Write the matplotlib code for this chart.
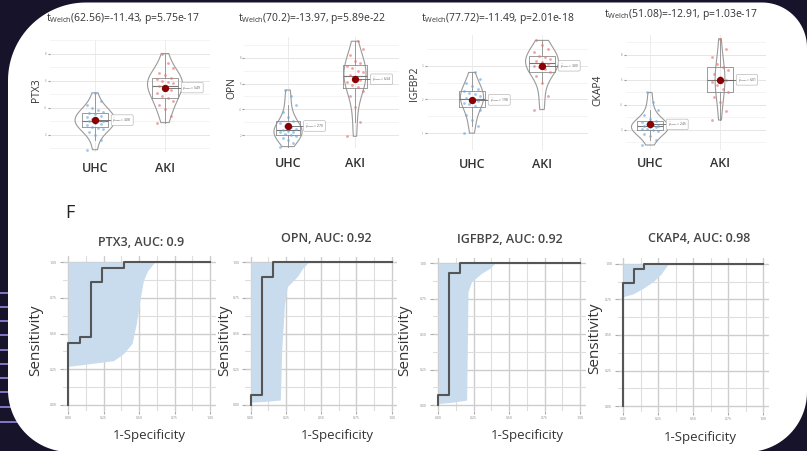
import matplotlib.pyplot as plt
import numpy as np
from matplotlib.patches import Polygon, Rectangle

W, H = 807, 451

plt.rcParams['font.family'] = ['Open Sans', 'DejaVu Sans']
plt.rcParams['mathtext.fontset'] = 'custom'
plt.rcParams['mathtext.rm'] = 'Open Sans'
plt.rcParams['mathtext.it'] = 'Open Sans:italic'

markers = ['PTX3', 'OPN', 'IGFBP2', 'CKAP4']
groups = ['UHC', 'AKI']

# Welch t-test between groups
welch_df = [62.56, 70.2, 77.72, 51.08]
welch_t = [-11.43, -13.97, -11.49, -12.91]
welch_p = ['5.75e-17', '5.89e-22', '2.01e-18', '1.03e-17']

# marker levels per group
uhc_ptx3 = [0.9, 1.6, 2.0, 2.2, 2.4, 2.5, 2.6, 2.7, 2.8, 2.9, 3.0, 3.0, 3.1, 3.2,
            3.3, 3.4, 3.5, 3.6, 3.7, 3.8, 4.0, 4.2, 4.5, 5.1]
aki_ptx3 = [2.9, 3.4, 3.9, 4.2, 4.5, 4.7, 4.9, 5.1, 5.3, 5.5, 5.6, 5.8, 5.9, 6.0,
            6.1, 6.2, 6.4, 6.6, 6.9, 7.3, 8.0]
uhc_opn = [1.1, 1.4, 1.6, 1.8, 1.9, 2.0, 2.1, 2.2, 2.2, 2.3, 2.4, 2.5, 2.6, 2.7,
           2.9, 3.1, 3.4, 3.8, 4.3, 5.0, 5.5]
aki_opn = [1.9, 3.0, 4.2, 5.0, 5.4, 5.7, 5.9, 6.1, 6.3, 6.5, 6.7, 6.9, 7.0, 7.2,
           7.4, 7.6, 7.8, 8.2, 8.7, 9.3]
uhc_igfbp2 = [1.0, 1.2, 1.4, 1.55, 1.7, 1.8, 1.85, 1.9, 1.95, 2.0, 2.05, 2.1,
              2.15, 2.2, 2.25, 2.3, 2.4, 2.5, 2.6, 2.8]
aki_igfbp2 = [1.7, 2.1, 2.5, 2.7, 2.8, 2.9, 2.95, 3.0, 3.05, 3.1, 3.15, 3.2,
              3.25, 3.3, 3.4, 3.5, 3.6, 3.75]
uhc_ckap4 = [0.8, 1.2, 1.5, 1.7, 1.9, 2.0, 2.1, 2.1, 2.2, 2.2, 2.3, 2.3, 2.4,
             2.5, 2.6, 2.7, 2.9, 3.2, 3.6, 4.2, 5.0]
aki_ckap4 = [2.8, 3.5, 4.2, 4.6, 5.0, 5.3, 5.6, 5.8, 6.0, 6.2, 6.5, 6.8, 7.0,
             7.3, 7.8, 8.5, 9.3]

uhc_vals = [uhc_ptx3, uhc_opn, uhc_igfbp2, uhc_ckap4]
aki_vals = [aki_ptx3, aki_opn, aki_igfbp2, aki_ckap4]
y_ticks = [[2, 4, 6, 8], [2, 4, 6, 8], [1, 2, 3], [2, 4, 6, 8]]

# ROC curves (1-specificity, sensitivity) and lower CI band
auc = ['0.9', '0.92', '0.92', '0.98']
fpr_ptx3 = [0, 0, 0.08, 0.08, 0.16, 0.16, 0.235, 0.235, 0.39, 0.39, 1.0]
tpr_ptx3 = [0, 0.435, 0.435, 0.477, 0.477, 0.86, 0.86, 0.96, 0.96, 1.0, 1.0]
fpr_opn = [0, 0, 0.078, 0.078, 0.156, 0.156, 1.0]
tpr_opn = [0, 0.07, 0.07, 0.895, 0.895, 1.0, 1.0]
fpr_igfbp2 = [0, 0, 0.078, 0.078, 0.153, 0.153, 1.0]
tpr_igfbp2 = [0, 0.07, 0.07, 0.934, 0.934, 1.0, 1.0]
fpr_ckap4 = [0, 0, 0.076, 0.076, 0.15, 0.15, 1.0]
tpr_ckap4 = [0, 0.869, 0.869, 0.965, 0.965, 1.0, 1.0]

ci_x_ptx3 = [0, 0.08, 0.16, 0.24, 0.32, 0.39, 0.45, 0.48, 0.51, 0.53, 0.56, 0.61]
ci_lo_ptx3 = [0.27, 0.28, 0.29, 0.30, 0.31, 0.36, 0.43, 0.57, 0.76, 0.87, 0.94, 1.0]
ci_x_opn = [0, 0.1, 0.21, 0.215, 0.22, 0.24, 0.26, 0.33, 0.37, 0.41]
ci_lo_opn = [0.02, 0.025, 0.035, 0.2, 0.39, 0.71, 0.83, 0.9, 0.96, 1.0]
ci_x_igfbp2 = [0, 0.1, 0.2, 0.205, 0.21, 0.235, 0.306, 0.365, 0.4]
ci_lo_igfbp2 = [0.01, 0.02, 0.035, 0.4, 0.8, 0.87, 0.93, 0.965, 1.0]
ci_x_ckap4 = [0, 0.071, 0.143, 0.214, 0.27, 0.32]
ci_lo_ckap4 = [0.77, 0.79, 0.83, 0.876, 0.93, 1.0]

roc_fpr = [fpr_ptx3, fpr_opn, fpr_igfbp2, fpr_ckap4]
roc_tpr = [tpr_ptx3, tpr_opn, tpr_igfbp2, tpr_ckap4]
ci_x = [ci_x_ptx3, ci_x_opn, ci_x_igfbp2, ci_x_ckap4]
ci_lo = [ci_lo_ptx3, ci_lo_opn, ci_lo_igfbp2, ci_lo_ckap4]

fig = plt.figure(figsize=(W / 100, H / 100), dpi=100)


def px_axes(x0, y0, x1, y1):
    ax = fig.add_axes([x0 / W, 1 - y1 / H, (x1 - x0) / W, (y1 - y0) / H])
    ax.set_facecolor('none')
    for s in ax.spines.values():
        s.set_visible(False)
    return ax


def px_text(x, y, s, **kw):
    fig.text(x / W, 1 - y / H, s, ha='center', va='center', **kw)


def rounded_outline(l, t, r, b, radii, n=30):
    rtl, rtr, rbr, rbl = radii
    corners = [((l + rtl, t + rtl), rtl, 180, 270),
               ((r - rtr, t + rtr), rtr, 270, 360),
               ((r - rbr, b - rbr), rbr, 0, 90),
               ((l + rbl, b - rbl), rbl, 90, 180)]
    pts = []
    for (cx, cy), rad, a0, a1 in corners:
        a = np.radians(np.linspace(a0, a1, n))
        pts += list(zip(cx + rad * np.cos(a), cy + rad * np.sin(a)))
    return pts


# slide backdrop
bg = fig.add_axes([0, 0, 1, 1])
bg.set_xlim(0, W)
bg.set_ylim(H, 0)
bg.axis('off')
bg.add_patch(Rectangle((0, 0), W, H, color='#16132b', zorder=0))
for y in [293, 307, 321, 335, 350, 364, 378, 392, 407, 422]:
    bg.plot([0, 60], [y, y], color='#8a7fd1', lw=1.3, zorder=1)
bg.add_patch(Polygon(rounded_outline(8, 2.5, 807, 452, (78, 45, 60, 62)),
                     closed=True, fc='white', ec='none', zorder=2))

# ---- top row: between-group violins ----
vio_rects = [(49.5, 40, 210.5, 152), (244.5, 37, 398.5, 148),
             (426.5, 35, 587.5, 150), (625.5, 35, 765.5, 150)]
vio_xmin = [0.35, 0.35, 0.35, 0.65]
vio_ylim = [(0.73, 8.2), (0.99, 9.63), (0.92, 3.91), (0.4, 9.6)]
vio_widths = [(0.57, 0.5), (0.42, 0.33), (0.33, 0.47), (0.53, 0.14)]
title_xy = [(123, 19), (312, 18), (498, 18), (681, 15)]
ylab_xy = [(36, 90), (232, 88), (414, 84), (598, 90)]
xlab_pad = [7.5, 6.5, 5.5, 5]
pt_colors = ['#6fa8dc', '#e57373']

for i, name in enumerate(markers):
    ax = px_axes(*vio_rects[i])
    data = [uhc_vals[i], aki_vals[i]]

    vp = ax.violinplot(data, positions=[1, 2], widths=list(vio_widths[i]),
                       showextrema=False, bw_method='silverman')
    for body in vp['bodies']:
        body.set_facecolor('none')
        body.set_edgecolor('#9a9a9a')
        body.set_linewidth(0.8)
        body.set_alpha(1)

    ax.boxplot(data, positions=[1, 2], widths=0.36, showfliers=False,
               boxprops=dict(color='#8c8c8c', lw=0.6),
               whiskerprops=dict(color='#8c8c8c', lw=0.6),
               capprops=dict(lw=0),
               medianprops=dict(color='#777777', lw=0.8))

    for g, vals in enumerate(data):
        pos = g + 1
        vals = np.asarray(vals)
        jit = ((np.arange(len(vals)) * 5) % 7 - 3) * 0.04
        ax.scatter(pos + jit, vals, s=4, color=pt_colors[g], alpha=0.65, lw=0, zorder=3)
        m = vals.mean()
        ax.plot([pos, pos + 0.25], [m, m], color='#666666', lw=0.6, zorder=3)
        ax.scatter([pos], [m], s=28, color='#8b0000', zorder=4, lw=0)
        ax.text(pos + 0.25, m, r'$\hat{\mu}_{\mathrm{mean}}=%.2f$' % m, fontsize=2.3,
                va='center', ha='left', color='#555555', zorder=5,
                bbox=dict(boxstyle='round,pad=0.4', fc='white', ec='#aaaaaa', lw=0.4))

    ax.set_xlim(vio_xmin[i], 2.65)
    ax.set_ylim(*vio_ylim[i])
    yt = y_ticks[i]
    step = yt[1] - yt[0]
    ax.set_yticks(yt)
    ax.set_yticks([v + step / 2 for v in [yt[0] - step] + yt], minor=True)
    ax.set_xticks([1, 2])
    ax.set_xticklabels(groups, fontsize=9, fontweight='semibold', color='#333333')
    ax.tick_params(axis='x', length=0, pad=xlab_pad[i])
    ax.tick_params(axis='y', which='major', labelsize=2, length=1.5, pad=1,
                   color='#999999', labelcolor='#888888')
    ax.tick_params(axis='y', which='minor', length=0)
    ax.grid(axis='y', which='major', color='#e6e6e6', lw=0.7)
    ax.grid(axis='y', which='minor', color='#f0f0f0', lw=0.5)
    ax.grid(axis='x', color='#ececec', lw=0.7)
    ax.set_axisbelow(True)

    px_text(*title_xy[i],
            r'$\mathrm{t}_{\mathrm{Welch}}$(%g)=%g, p=%s' % (welch_df[i], welch_t[i], welch_p[i]),
            fontsize=7.5, color='#333333')
    px_text(*ylab_xy[i], name, fontsize=7.5, rotation=90, color='#333333')

# ---- bottom row: ROC curves ----
roc_rects = [(62.6, 256.3, 215.7, 410.7), (245.1, 256.6, 397.3, 410.7),
             (432.6, 257.6, 585.7, 410.7), (617.7, 258.3, 769.0, 411.7)]
roc_title_xy = [(141, 242), (326, 239), (510, 240), (699, 239)]
sens_xy = [(36, 340), (225, 340), (405, 340), (595, 338)]
spec_xy = [(149, 435), (337, 435), (527, 435), (700, 437)]

px_text(70, 213, 'F', fontsize=13, color='#222222')

for i, name in enumerate(markers):
    ax = px_axes(*roc_rects[i])
    ax.set_xlim(-0.04, 1.04)
    ax.set_ylim(-0.04, 1.04)
    ticks = [0, 0.25, 0.5, 0.75, 1.0]
    ax.set_xticks(ticks)
    ax.set_yticks(ticks)
    ax.set_xticks([0.125, 0.375, 0.625, 0.875], minor=True)
    ax.set_yticks([0.125, 0.375, 0.625, 0.875], minor=True)
    ax.set_xticklabels(['%.2f' % t for t in ticks])
    ax.set_yticklabels(['%.2f' % t for t in ticks])
    ax.tick_params(which='major', labelsize=2.5, length=2, pad=2,
                   color='#aaaaaa', labelcolor='#888888')
    ax.tick_params(which='minor', length=0)
    ax.grid(which='major', color='#cdcdcd', lw=1.0)
    ax.grid(which='minor', color='#dedede', lw=0.8)
    ax.set_axisbelow(True)

    ax.fill_between(ci_x[i], ci_lo[i], 1.0, color='#c9dcee', lw=0, zorder=2)
    ax.plot(roc_fpr[i], roc_tpr[i], color='#555555', lw=1.5, zorder=3)

    px_text(*roc_title_xy[i], '%s, AUC: %s' % (name, auc[i]),
            fontsize=9, fontweight='semibold', color='#444444')
    px_text(*sens_xy[i], 'Sensitivity', fontsize=11, rotation=90, color='#333333')
    px_text(*spec_xy[i], '1-Specificity', fontsize=9.5, color='#333333')

fig.savefig('out.png', dpi=100)
